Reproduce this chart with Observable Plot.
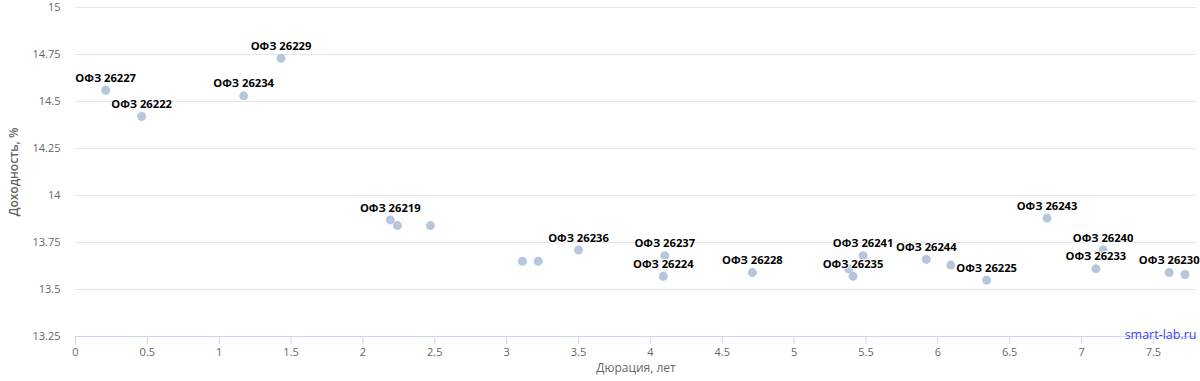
<!DOCTYPE html>
<html>
<head>
<meta charset="utf-8">
<script src="https://cdn.jsdelivr.net/npm/d3@7"></script>
<script src="https://cdn.jsdelivr.net/npm/@observablehq/plot@0.6"></script>
<style>
  html, body { margin: 0; padding: 0; background: #fff; }
  #chart svg { display: block; }
</style>
</head>
<body>
<div id="chart"></div>
<script>
// Bond names ("" = unlabeled point)
const names = [
  "ОФЗ 26227", "ОФЗ 26222", "ОФЗ 26234", "ОФЗ 26229",
  "ОФЗ 26219", "", "", "", "",
  "ОФЗ 26236", "ОФЗ 26237", "ОФЗ 26224", "ОФЗ 26228",
  "", "ОФЗ 26235", "ОФЗ 26241", "ОФЗ 26244", "",
  "ОФЗ 26225", "ОФЗ 26243", "ОФЗ 26240", "ОФЗ 26233",
  "ОФЗ 26230", ""
];
// Duration, years
const durations = [
  0.21, 0.46, 1.17, 1.43,
  2.19, 2.24, 2.47, 3.11, 3.22,
  3.50, 4.10, 4.09, 4.71,
  5.38, 5.41, 5.48, 5.92, 6.09,
  6.34, 6.76, 7.15, 7.10,
  7.61, 7.72
];
// Yield, %
const yields = [
  14.56, 14.42, 14.53, 14.73,
  13.87, 13.84, 13.84, 13.65, 13.65,
  13.71, 13.68, 13.57, 13.59,
  13.61, 13.57, 13.68, 13.66, 13.63,
  13.55, 13.88, 13.71, 13.61,
  13.59, 13.58
];
const xTicks = [0, 0.5, 1, 1.5, 2, 2.5, 3, 3.5, 4, 4.5, 5, 5.5, 6, 6.5, 7, 7.5];
const yTicks = [13.25, 13.5, 13.75, 14, 14.25, 14.5, 14.75, 15];
const xTitle = "Дюрация, лет";
const yTitle = "Доходность, %";
const credits = ["smart-lab.ru"];

const data = names.map((n, i) => ({name: n, x: durations[i], y: yields[i]}));

const chart = Plot.plot({
  width: 1200,
  height: 381,
  marginLeft: 75,
  marginRight: 4,
  marginTop: 7,
  marginBottom: 45,
  style: {fontFamily: "'Open Sans', sans-serif", fontSize: "11px", color: "#666", background: "#fff"},
  x: {domain: [0, 7.8]},
  y: {domain: [13.25, 15]},
  marks: [
    Plot.gridY(yTicks, {stroke: "#e6e6e6", strokeOpacity: 1}),
    Plot.ruleY([13.25], {stroke: "#ccd6eb", strokeWidth: 1}),
    Plot.axisX(xTicks, {
      tickSize: 8, stroke: "#ccd6eb", strokeOpacity: 1, tickPadding: 4,
      tickFormat: d => String(d), fill: "#666",
      label: null
    }),
    Plot.axisY(yTicks, {
      tickSize: 0, tickPadding: 15, tickFormat: d => String(d), fill: "#666",
      label: null
    }),
    Plot.text([xTitle], {frameAnchor: "bottom", dy: 35, fill: "#666", fontSize: 12}),
    Plot.text([yTitle], {frameAnchor: "left", textAnchor: "middle", dx: -61, rotate: -90, fill: "#666", fontSize: 12, fontWeight: 600}),
    Plot.dot(data, {x: "x", y: "y", r: 4.5, fill: "#b5c6dd", stroke: "none"}),
    Plot.text(data.filter(d => d.name), {
      x: "x", y: "y", text: "name", dy: -12,
      fill: "#000", stroke: "white", strokeWidth: 2,
      fontSize: 11.2, fontWeight: 700
    }),
    Plot.text(credits, {frameAnchor: "bottom-right", dy: 2, fill: "#3c3cff", fontSize: 12.5, textAnchor: "end"})
  ]
});
document.getElementById("chart").appendChild(chart);
</script>
</body>
</html>
